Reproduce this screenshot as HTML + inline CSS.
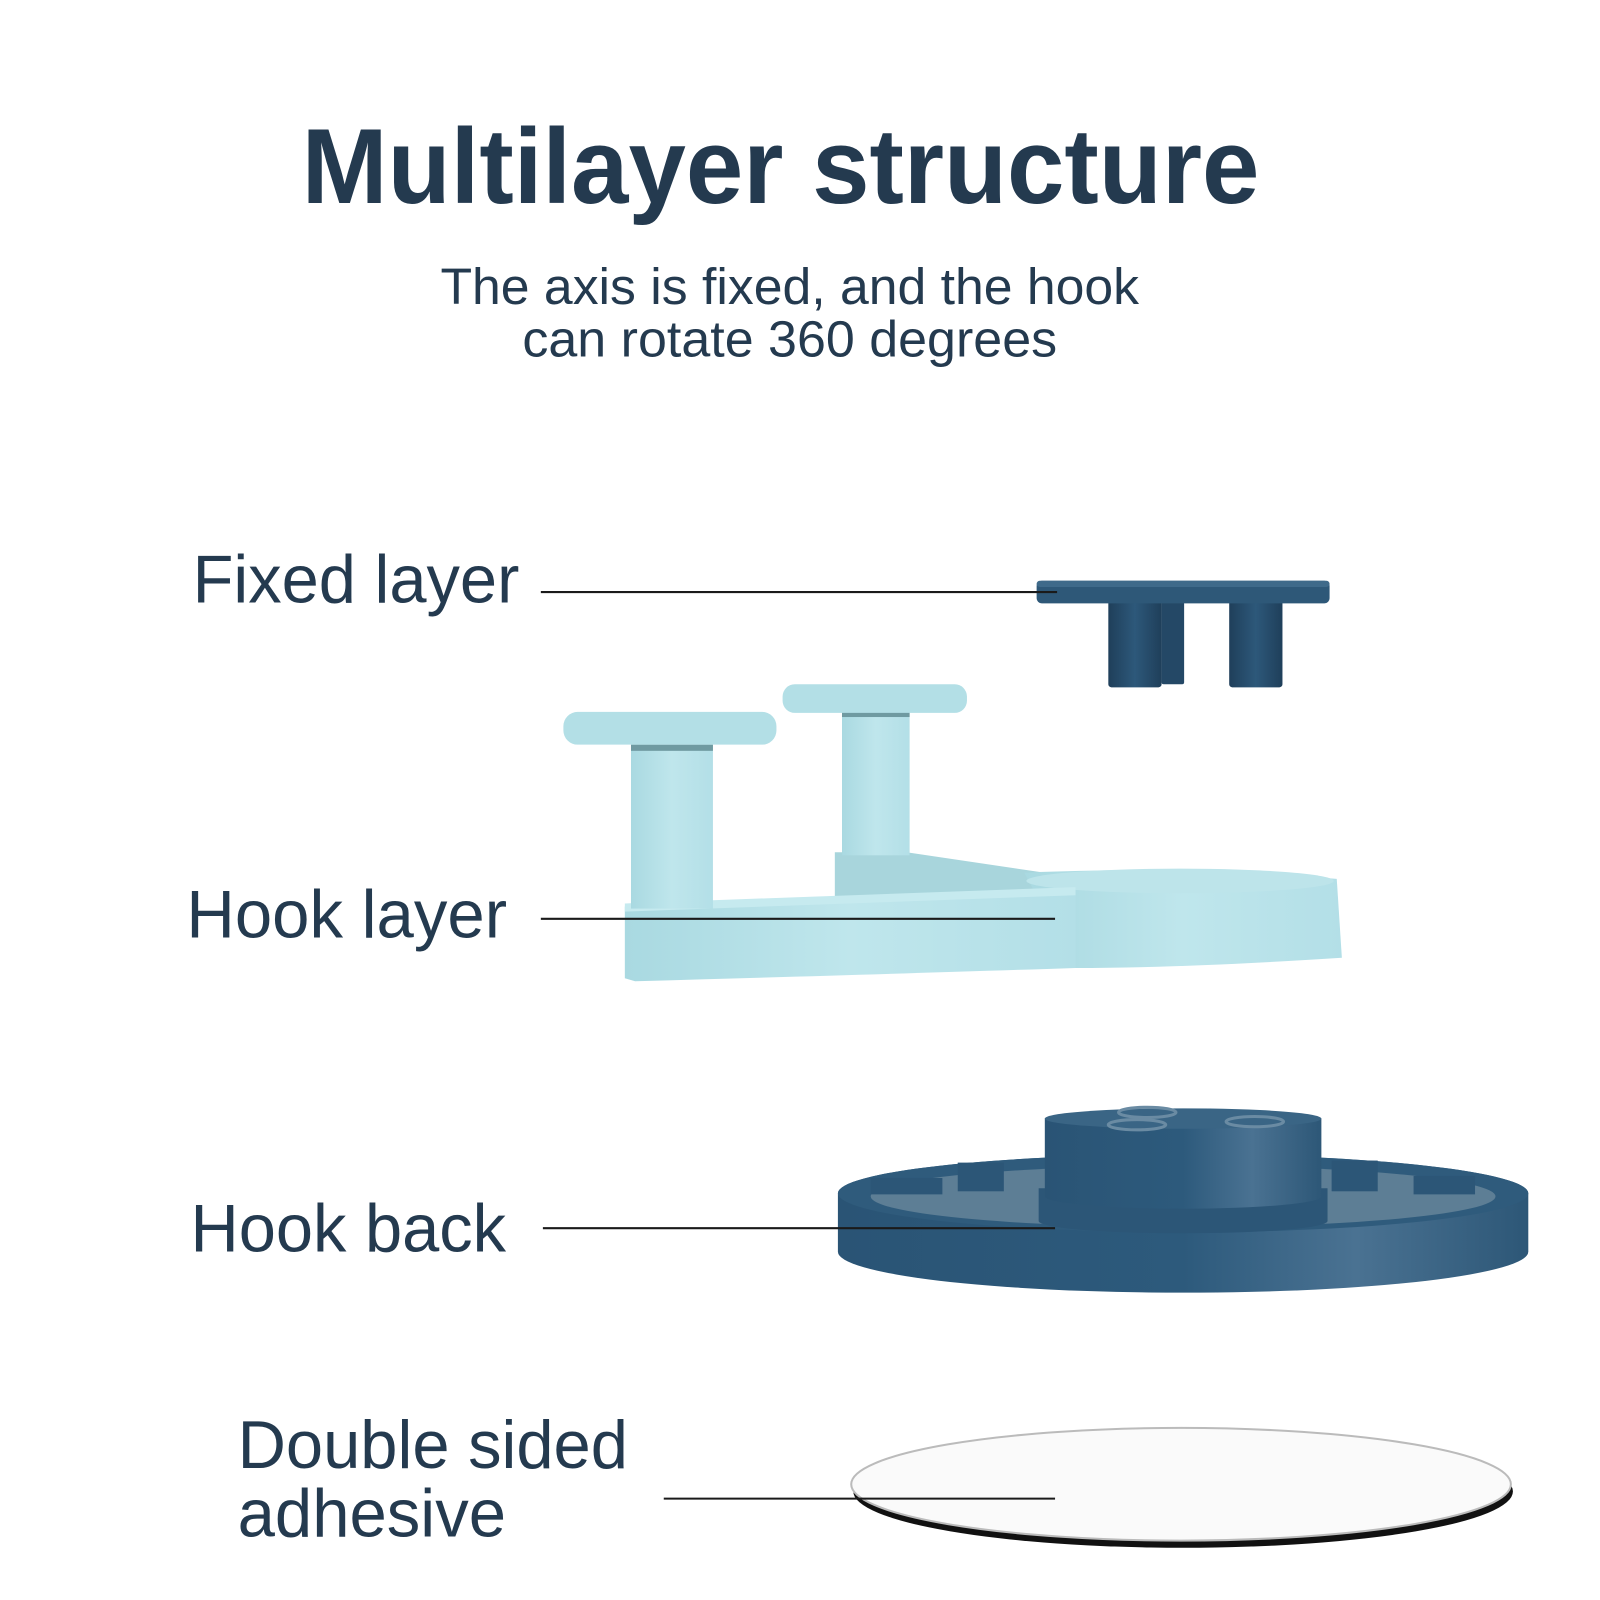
<!DOCTYPE html>
<html><head><meta charset="utf-8"><style>
html,body{margin:0;padding:0;background:#fff;}
svg{display:block;}
text{font-family:"Liberation Sans",Arial,sans-serif;fill:#243a4f;}
</style></head><body>
<svg width="1600" height="1600" viewBox="0 0 1562 1562" xmlns="http://www.w3.org/2000/svg">
<defs>
<linearGradient id="lb" x1="0" x2="1"><stop offset="0" stop-color="#a9d9e1"/><stop offset="0.5" stop-color="#bfe6ec"/><stop offset="1" stop-color="#b3dfe7"/></linearGradient>
<linearGradient id="db" x1="0" x2="1"><stop offset="0" stop-color="#2a5475"/><stop offset="0.5" stop-color="#2d5a7c"/><stop offset="0.75" stop-color="#4a7292"/><stop offset="1" stop-color="#2d5777"/></linearGradient>
<linearGradient id="peg" x1="0" x2="1"><stop offset="0" stop-color="#1f3f5a"/><stop offset="0.5" stop-color="#2d587a"/><stop offset="1" stop-color="#1f3f5a"/></linearGradient>
</defs>
<rect width="1562" height="1562" fill="#fff"/>
<text x="762" y="198" font-size="104" font-weight="bold" text-anchor="middle" textLength="935" lengthAdjust="spacingAndGlyphs">Multilayer structure</text>
<text x="771" y="297" font-size="50" text-anchor="middle" textLength="682" lengthAdjust="spacingAndGlyphs">The axis is fixed, and the hook</text>
<text x="771" y="348" font-size="50" text-anchor="middle" textLength="522" lengthAdjust="spacingAndGlyphs">can rotate 360 degrees</text>

<text x="188" y="588" font-size="66" textLength="319" lengthAdjust="spacingAndGlyphs">Fixed layer</text>
<text x="182" y="915" font-size="66" textLength="313" lengthAdjust="spacingAndGlyphs">Hook layer</text>
<text x="186" y="1222" font-size="66" textLength="308" lengthAdjust="spacingAndGlyphs">Hook back</text>
<text x="232" y="1433" font-size="66" textLength="381" lengthAdjust="spacingAndGlyphs">Double sided</text>
<text x="232" y="1500" font-size="66" textLength="262" lengthAdjust="spacingAndGlyphs">adhesive</text>

<!-- fixed layer -->
<rect x="1082" y="585" width="52" height="86" rx="3" fill="url(#peg)"/>
<rect x="1134" y="585" width="22" height="83" rx="2" fill="#244866"/>
<rect x="1200" y="585" width="52" height="86" rx="3" fill="url(#peg)"/>
<rect x="1012" y="567" width="286" height="22" rx="5" fill="#2e5878"/>
<rect x="1012" y="567" width="286" height="6" rx="3" fill="#3f6a8a"/>

<!-- hook layer -->
<path d="M815 832 L885 832 L1040 855 L1000 900 L815 900 Z" fill="#a8d5dc"/>
<path d="M1000 852 Q1155 845 1305 858 L1310 935 Q1155 945 1050 945 Z" fill="url(#lb)"/>
<ellipse cx="1152" cy="860" rx="150" ry="12" fill="#bde4ea"/>
<path d="M610 885 L1050 868 L1050 945 Q900 950 620 958 L610 955 Z" fill="url(#lb)"/>
<path d="M610 882 L1050 866 L1050 874 L610 890 Z" fill="#c6eaef"/>
<rect x="616" y="727" width="80" height="160" fill="url(#lb)"/>
<rect x="822" y="695" width="66" height="140" fill="url(#lb)"/>
<rect x="616" y="727" width="80" height="6" fill="#6f9aa1"/>
<rect x="822" y="695" width="66" height="5" fill="#6f9aa1"/>
<rect x="550" y="695" width="208" height="32" rx="14" fill="#b3dfe6"/>
<rect x="764" y="668" width="180" height="28" rx="12" fill="#b3dfe6"/>

<!-- hook back -->
<path d="M818 1165 A337 38 0 0 1 1492 1165 L1492 1222 A337 40 0 0 1 818 1222 Z" fill="url(#db)"/>
<ellipse cx="1155" cy="1165" rx="337" ry="38" fill="#2f5b7c"/>
<ellipse cx="1155" cy="1168" rx="305" ry="30" fill="#5d7e95"/>
<g fill="#2c5677">
<rect x="850" y="1150" width="70" height="16"/><rect x="935" y="1135" width="45" height="28"/>
<rect x="1300" y="1133" width="45" height="30"/><rect x="1380" y="1148" width="60" height="18"/>
<rect x="1090" y="1190" width="30" height="12"/>
</g>
<path d="M1014 1160 L1296 1160 L1296 1192 A141 12 0 0 1 1014 1192 Z" fill="#2c5677"/>
<path d="M1020 1092 L1290 1092 L1290 1168 A135 12 0 0 1 1020 1168 Z" fill="url(#db)"/>
<ellipse cx="1155" cy="1092" rx="135" ry="10" fill="#3a6585"/>
<ellipse cx="1120" cy="1086" rx="28" ry="5" fill="none" stroke="#6a8ba3" stroke-width="3"/>
<ellipse cx="1225" cy="1095" rx="28" ry="5" fill="none" stroke="#6a8ba3" stroke-width="3"/>
<ellipse cx="1110" cy="1098" rx="28" ry="5" fill="none" stroke="#6a8ba3" stroke-width="3"/>

<!-- adhesive -->
<ellipse cx="1155" cy="1456" rx="322" ry="55" fill="#111"/>
<ellipse cx="1153" cy="1449" rx="322" ry="55" fill="#fafafa" stroke="#bbb" stroke-width="2"/>

<!-- leader lines -->
<g stroke="#1a1a1a" stroke-width="2">
<line x1="528" y1="578" x2="1032" y2="578"/>
<line x1="528" y1="897" x2="1030" y2="897"/>
<line x1="530" y1="1199" x2="1030" y2="1199"/>
<line x1="648" y1="1463" x2="1030" y2="1463"/>
</g>
</svg>
</body></html>
